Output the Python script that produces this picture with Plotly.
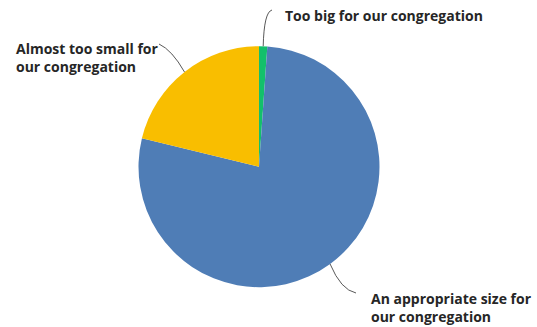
import math
import plotly.graph_objects as go

# Survey answers: how the congregation feels about the size of the building
labels = ["Too big for our congregation",
          "An appropriate size for our congregation",
          "Almost too small for our congregation"]
values = [1.1, 77.7, 21.2]
colors = ["#13C06B", "#4F7DB6", "#F9BE00"]

# Label text (wrapped as on the chart)
label_text = ["Too big for our congregation",
              "An appropriate size for<br>our congregation",
              "Almost too small for<br>our congregation"]

W, H = 537, 327
cx, cy, r = 259, 166.7, 120.5

fig = go.Figure()
fig.add_trace(go.Pie(
    labels=labels, values=values, sort=False, direction="clockwise", rotation=0,
    marker=dict(colors=colors, line=dict(color="white", width=0)),
    textinfo="none", hoverinfo="label+percent", showlegend=False,
    domain=dict(x=[(cx - r) / W, (cx + r) / W], y=[(H - cy - r) / H, (H - cy + r) / H]),
))

# Leader-line start points sit on the rim at each slice's mid-angle
total = sum(values)
starts = []
acc = 0
for v in values:
    mid = (acc + v / 2) / total * 2 * math.pi
    starts.append((cx + r * math.sin(mid), cy - r * math.cos(mid)))
    acc += v

# (control point, end point, label anchor) for each leader line
leaders = [
    ((264, 12), (272, 10), (283, 15)),
    ((341, 290), (356, 293), (369, 307)),
    ((172, 50), (159, 44), (14, 57.5)),
]

shapes = []
annotations = []
for (sx, sy), ((qx, qy), (ex, ey), (tx, ty)), txt in zip(starts, leaders, label_text):
    shapes.append(dict(type="path", xref="x", yref="y",
                       path=f"M {sx:.1f},{sy:.1f} Q {qx},{qy} {ex},{ey}",
                       line=dict(color="#595959", width=1)))
    annotations.append(dict(x=tx, y=ty, xref="x", yref="y", text=txt, showarrow=False,
                            xanchor="left", yanchor="middle", align="left",
                            font=dict(family="Open Sans", size=14, color="#262626", weight=700)))

fig.update_layout(
    width=W, height=H, margin=dict(l=0, r=0, t=0, b=0),
    paper_bgcolor="white", plot_bgcolor="rgba(0,0,0,0)",
    xaxis=dict(range=[0, W], visible=False, fixedrange=True),
    yaxis=dict(range=[H, 0], visible=False, fixedrange=True),
    shapes=shapes, annotations=annotations,
)

fig.write_html("out.html")
